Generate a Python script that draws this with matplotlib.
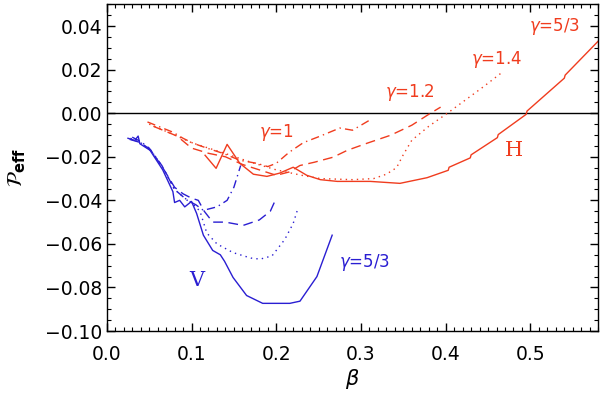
import numpy as np
import matplotlib
matplotlib.use('Agg')
import matplotlib.pyplot as plt
from matplotlib.ticker import MultipleLocator, FuncFormatter

RED = '#f03c1e'
BLUE = '#2a1ed2'

# horizontal (H) runs, red
h_g1_beta = [0.048, 0.078, 0.090, 0.102, 0.118, 0.137, 0.157, 0.177, 0.190, 0.200, 0.215, 0.232, 0.252, 0.275, 0.290, 0.311]
h_g1_p = [-0.004, -0.0087, -0.0115, -0.0138, -0.016, -0.0184, -0.0216, -0.023, -0.0245, -0.023, -0.018, -0.0135, -0.0105, -0.0068, -0.0078, -0.003]

h_g12_beta = [0.055, 0.083, 0.100, 0.120, 0.140, 0.160, 0.180, 0.200, 0.215, 0.228, 0.245, 0.267, 0.284, 0.307, 0.335, 0.360, 0.382, 0.394]
h_g12_p = [-0.006, -0.0105, -0.016, -0.0184, -0.020, -0.0235, -0.026, -0.0285, -0.027, -0.024, -0.0225, -0.0202, -0.017, -0.0138, -0.0101, -0.0055, 0.0, 0.0028]

h_g14_beta = [0.050, 0.080, 0.100, 0.140, 0.170, 0.200, 0.230, 0.252, 0.290, 0.315, 0.330, 0.342, 0.350, 0.360, 0.380, 0.402, 0.444, 0.467]
h_g14_p = [-0.005, -0.010, -0.0135, -0.0185, -0.0225, -0.026, -0.0285, -0.030, -0.0305, -0.030, -0.028, -0.025, -0.019, -0.0124, -0.006, 0.0, 0.012, 0.0189]

h_g53_beta = [0.116, 0.129, 0.142, 0.157, 0.173, 0.189, 0.204, 0.220, 0.236, 0.252, 0.272, 0.311, 0.346, 0.378,
              0.403, 0.404, 0.429, 0.430, 0.461, 0.462, 0.495, 0.496, 0.540, 0.541, 0.580]
h_g53_p = [-0.0193, -0.0253, -0.0143, -0.023, -0.028, -0.029, -0.0275, -0.0248, -0.0285, -0.0305, -0.0313, -0.0313, -0.0322, -0.0296,
           -0.0262, -0.0248, -0.0205, -0.0191, -0.0112, -0.0098, -0.0005, 0.001, 0.0161, 0.0175, 0.0331]

# vertical (V) runs, blue
v_g1_beta = [0.030, 0.040, 0.050, 0.065, 0.080, 0.095, 0.105, 0.114, 0.130, 0.142, 0.150, 0.158]
v_g1_p = [-0.011, -0.013, -0.016, -0.024, -0.035, -0.040, -0.042, -0.0446, -0.043, -0.040, -0.034, -0.024]

v_g12_beta = [0.027, 0.040, 0.052, 0.066, 0.080, 0.090, 0.100, 0.108, 0.115, 0.125, 0.140, 0.161, 0.180, 0.193, 0.200]
v_g12_p = [-0.012, -0.0135, -0.017, -0.025, -0.034, -0.037, -0.039, -0.040, -0.045, -0.050, -0.050, -0.0515, -0.049, -0.045, -0.039]

v_g14_beta = [0.028, 0.042, 0.053, 0.067, 0.080, 0.092, 0.100, 0.110, 0.118, 0.130, 0.149, 0.170, 0.181, 0.195, 0.210, 0.220, 0.226]
v_g14_p = [-0.0115, -0.014, -0.0175, -0.0255, -0.035, -0.039, -0.041, -0.045, -0.055, -0.060, -0.064, -0.0665, -0.067, -0.0655, -0.058, -0.0506, -0.0432]

v_g53_beta = [0.025, 0.033, 0.037, 0.039, 0.051, 0.066, 0.078, 0.080, 0.086, 0.092, 0.100, 0.106, 0.114, 0.125, 0.134,
              0.139, 0.149, 0.165, 0.184, 0.216, 0.228, 0.248, 0.266]
v_g53_p = [-0.0115, -0.0125, -0.0105, -0.014, -0.017, -0.026, -0.036, -0.041, -0.040, -0.043, -0.0405, -0.046, -0.056, -0.063, -0.065,
           -0.068, -0.0754, -0.0837, -0.0873, -0.0873, -0.0863, -0.075, -0.056]

fig = plt.figure(figsize=(6.0, 3.95), dpi=100)
ax = fig.add_axes([0.178, 0.162, 0.819, 0.827])

lw = 1.0
ax.axhline(0.0, color='black', lw=1.0)

ax.plot(h_g1_beta, h_g1_p, color=RED, lw=lw, ls=(0, (6, 3, 1, 3)))
ax.plot(h_g12_beta, h_g12_p, color=RED, lw=lw, ls=(0, (7, 4)))
ax.plot(h_g14_beta, h_g14_p, color=RED, lw=lw, ls=(0, (1, 3)))
ax.plot(h_g53_beta, h_g53_p, color=RED, lw=lw, ls='-')

ax.plot(v_g1_beta, v_g1_p, color=BLUE, lw=lw, ls=(0, (6, 3, 1, 3)))
ax.plot(v_g12_beta, v_g12_p, color=BLUE, lw=lw, ls=(0, (7, 4)))
ax.plot(v_g14_beta, v_g14_p, color=BLUE, lw=lw, ls=(0, (1, 3)))
ax.plot(v_g53_beta, v_g53_p, color=BLUE, lw=lw, ls='-')

lab = dict(fontsize=12, ha='center', va='center')
ax.text(0.200, -0.0087, r'$\gamma$=1', color=RED, **lab)
ax.text(0.358, 0.0097, r'$\gamma$=1.2', color=RED, **lab)
ax.text(0.460, 0.0248, r'$\gamma$=1.4', color=RED, **lab)
ax.text(0.528, 0.0400, r'$\gamma$=5/3', color=RED, **lab)
ax.text(0.304, -0.0686, r'$\gamma$=5/3', color=BLUE, **lab)
ax.text(0.480, -0.0170, 'H', color=RED, fontsize=15, family='DejaVu Serif', ha='center', va='center')
ax.text(0.106, -0.0770, 'V', color=BLUE, fontsize=15, family='DejaVu Serif', ha='center', va='center')

ax.set_xlim(0.0, 0.58)
ax.set_ylim(-0.10, 0.05)
ax.xaxis.set_major_locator(MultipleLocator(0.1))
ax.xaxis.set_minor_locator(MultipleLocator(0.01))
ax.yaxis.set_major_locator(MultipleLocator(0.02))
ax.yaxis.set_minor_locator(MultipleLocator(0.005))


def yfmt(v, pos):
    if abs(v) < 1e-9:
        return '0.00'
    return f'{v:.2f}'.replace('-', '\u2212')


ax.xaxis.set_major_formatter(FuncFormatter(lambda v, pos: f'{abs(v):.1f}' if abs(v) < 1e-9 else f'{v:.1f}'))
ax.yaxis.set_major_formatter(FuncFormatter(yfmt))
ax.tick_params(which='both', direction='in', top=True, right=True, labelsize=13.5)
ax.tick_params(which='major', length=6, width=1)
ax.tick_params(which='minor', length=3, width=0.8)
ax.tick_params(axis='x', pad=10)
for s in ax.spines.values():
    s.set_linewidth(1.0)

ax.set_xlabel(r'$\beta$', fontsize=15, labelpad=2)
ax.set_ylabel(r'$\mathcal{P}_{\mathbf{eff}}$', fontsize=15, labelpad=12)

fig.savefig('out.png', dpi=100)
